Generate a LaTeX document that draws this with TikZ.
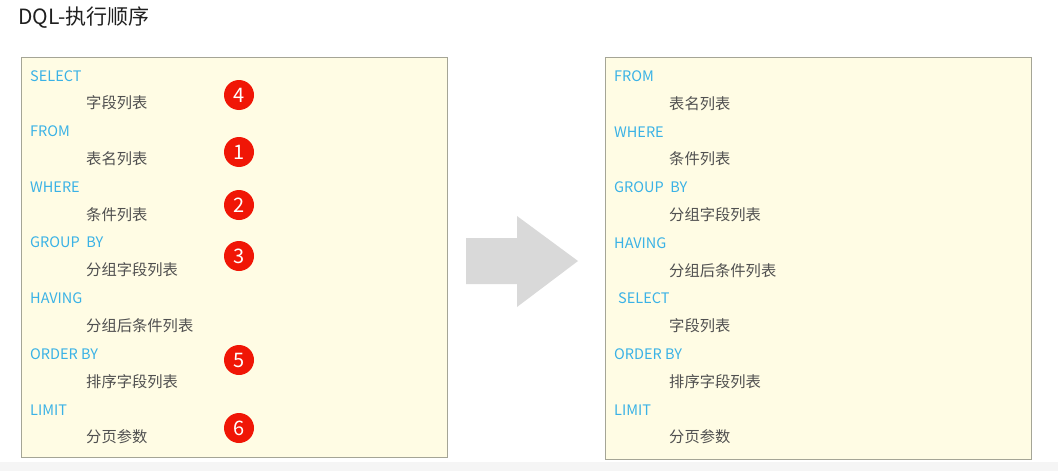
\documentclass[tikz,border=0pt]{standalone}
\usepackage{fontspec}
\setmainfont{Noto Sans CJK SC}
\definecolor{kwblue}{RGB}{58,178,230}
\definecolor{itemgray}{RGB}{80,80,80}
\definecolor{stepred}{RGB}{240,22,6}
\definecolor{boxfill}{RGB}{255,252,228}
\definecolor{boxline}{RGB}{165,165,150}
\definecolor{arrowgray}{RGB}{217,217,217}

\tikzset{
  keyword/.style={anchor=west, inner sep=0pt, text=kwblue, font=\fontsize{14.5}{15}\selectfont},
  item/.style={anchor=west, inner sep=0pt, text=itemgray, font=\fontsize{15.3}{15}\selectfont},
  order/.style={circle, fill=stepred, text=white, minimum size=30pt, inner sep=0pt, font=\fontsize{20}{20}\selectfont},
  panel/.style={draw=boxline, fill=boxfill, line width=1pt}
}

\begin{document}
\begin{tikzpicture}[x=1pt,y=-1pt]
	\useasboundingbox (0,0) rectangle (1058,471);
	\fill[black!4] (0,462) rectangle (1058,471);
	\node [anchor=west, inner sep=0pt, text=black!88, font=\fontsize{21}{21}\selectfont] (title) at (18,18) {DQL-执行顺序};
	%
	% written order
	\draw [panel] (21,57) rectangle (447,457);
	\node [keyword] (lselect) at (30,76) {SELECT};
	\node [item] (lfields) at (86,103) {字段列表};
	\node [keyword] (lfrom) at (30,131) {FROM};
	\node [item] (ltables) at (86,159) {表名列表};
	\node [keyword] (lwhere) at (30,187) {WHERE};
	\node [item] (lcond) at (86,215) {条件列表};
	\node [keyword] (lgroup) at (30,242) {GROUP\ \ BY};
	\node [item] (lgfields) at (86,270) {分组字段列表};
	\node [keyword] (lhaving) at (30,298) {HAVING};
	\node [item] (lhcond) at (86,326) {分组后条件列表};
	\node [keyword] (lorder) at (30,354) {ORDER BY};
	\node [item] (lofields) at (86,382) {排序字段列表};
	\node [keyword] (llimit) at (30,410) {LIMIT};
	\node [item] (lpage) at (86,437) {分页参数};
	%
	\node [order] (n4) at (239,95) {4};
	\node [order] (n1) at (239,152) {1};
	\node [order] (n2) at (239,205) {2};
	\node [order] (n3) at (239,256) {3};
	\node [order] (n5) at (239,360) {5};
	\node [order] (n6) at (239,428) {6};
	%
	\fill [arrowgray] (466,238) -- (517,238) -- (517,216) -- (578,261)
		-- (517,307) -- (517,284) -- (466,284) -- cycle;
	%
	% execution order
	\draw [panel] (605,57) rectangle (1031,459);
	\node [keyword] (rfrom) at (614,76) {FROM};
	\node [item] (rtables) at (669,104) {表名列表};
	\node [keyword] (rwhere) at (614,132) {WHERE};
	\node [item] (rcond) at (669,159) {条件列表};
	\node [keyword] (rgroup) at (614,187) {GROUP\ \ BY};
	\node [item] (rgfields) at (669,215) {分组字段列表};
	\node [keyword] (rhaving) at (614,243) {HAVING};
	\node [item] (rhcond) at (669,271) {分组后条件列表};
	\node [keyword] (rselect) at (618,298) {SELECT};
	\node [item] (rfields) at (669,326) {字段列表};
	\node [keyword] (rorder) at (614,354) {ORDER BY};
	\node [item] (rofields) at (669,382) {排序字段列表};
	\node [keyword] (rlimit) at (614,410) {LIMIT};
	\node [item] (rpage) at (669,437) {分页参数};
\end{tikzpicture}
\end{document}
